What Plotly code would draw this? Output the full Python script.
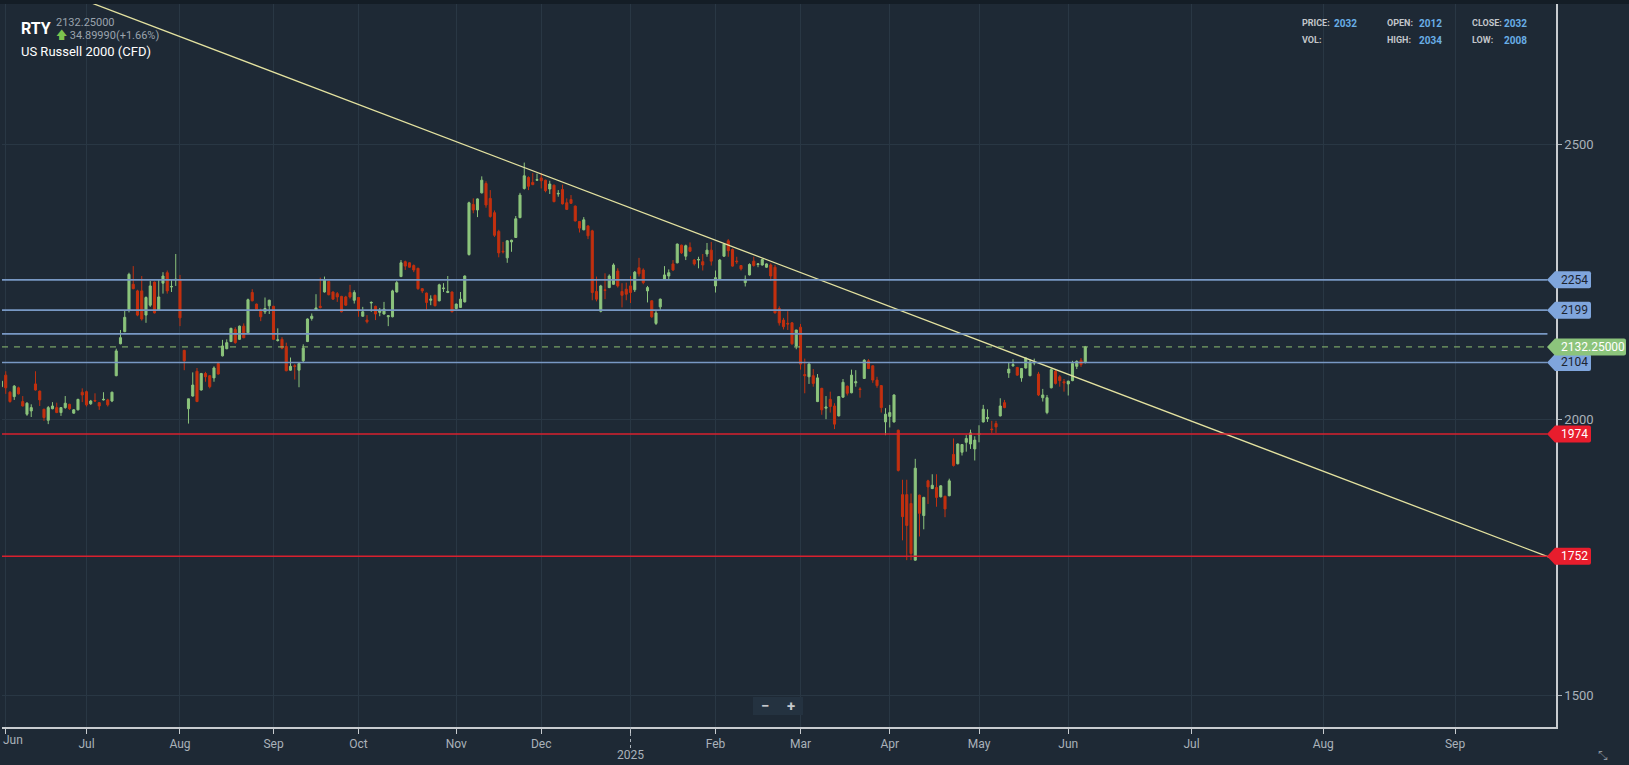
import plotly.graph_objects as go

# ---------------- data ----------------
opens = [2060, 2081, 2050, 2042, 2058, 2033, 2010, 2016, 2065, 2052,
         2019, 1999, 2020, 2022, 2013, 2022, 2028, 2012, 2018, 2050,
         2051, 2029, 2035, 2031, 2036, 2036, 2034, 2080, 2138, 2160,
         2199, 2246, 2234, 2234, 2190, 2208, 2250, 2199, 2248, 2267,
         2241, 2254, 2255, 2126, 2020, 2043, 2088, 2054, 2084, 2080,
         2076, 2102, 2116, 2129, 2142, 2164, 2146, 2170, 2158, 2231,
         2210, 2198, 2196, 2207, 2206, 2144, 2146, 2133, 2090, 2098,
         2090, 2107, 2142, 2184, 2199, 2206, 2232, 2251, 2232, 2229,
         2224, 2223, 2231, 2217, 2222, 2188, 2181, 2212, 2206, 2195,
         2192, 2187, 2187, 2232, 2260, 2287, 2285, 2280, 2275, 2238,
         2230, 2217, 2226, 2216, 2238, 2231, 2232, 2202, 2204, 2214,
         2300, 2391, 2381, 2412, 2429, 2402, 2376, 2342, 2306, 2294,
         2323, 2331, 2367, 2420, 2440, 2431, 2435, 2439, 2435, 2419,
         2426, 2410, 2418, 2394, 2400, 2388, 2360, 2345, 2352, 2343,
         2233, 2197, 2236, 2240, 2246, 2270, 2233, 2237, 2243, 2236,
         2276, 2272, 2234, 2216, 2175, 2205, 2255, 2261, 2283, 2285,
         2317, 2297, 2313, 2290, 2290, 2287, 2301, 2308, 2243, 2255,
         2297, 2325, 2309, 2288, 2280, 2249, 2263, 2288, 2282, 2281,
         2277, 2281, 2277, 2202, 2181, 2175, 2176, 2134, 2168, 2082,
         2078, 2080, 2033, 2057, 2021, 2037, 2025, 2007, 2041, 2061,
         2049, 2067, 2056, 2075, 2107, 2098, 2072, 2062, 1996, 2006,
         1996, 1981, 1864, 1864, 1848, 1745, 1863, 1826, 1889, 1875,
         1877, 1860, 1861, 1862, 1937, 1920, 1941, 1959, 1956, 1947,
         1973, 1996, 2002, 1983, 1993, 2007, 2031, 2085, 2098, 2095,
         2076, 2094, 2080, 2103, 2083, 2040, 2013, 2058, 2088, 2078,
         2069, 2065, 2071, 2097, 2108, 2104]
highs = [2072, 2088, 2052, 2063, 2060, 2043, 2032, 2028, 2088, 2053,
         2020, 2025, 2032, 2031, 2023, 2043, 2029, 2019, 2038, 2057,
         2053, 2036, 2048, 2032, 2050, 2038, 2051, 2129, 2163, 2199,
         2267, 2279, 2236, 2261, 2224, 2252, 2251, 2255, 2268, 2271,
         2255, 2301, 2263, 2127, 2038, 2086, 2094, 2085, 2087, 2081,
         2097, 2105, 2145, 2146, 2167, 2168, 2171, 2175, 2220, 2237,
         2211, 2202, 2222, 2218, 2207, 2166, 2150, 2140, 2113, 2101,
         2104, 2137, 2184, 2193, 2228, 2258, 2260, 2252, 2233, 2232,
         2225, 2225, 2245, 2235, 2223, 2205, 2190, 2215, 2207, 2203,
         2214, 2190, 2236, 2252, 2290, 2289, 2286, 2282, 2276, 2239,
         2231, 2226, 2227, 2247, 2248, 2261, 2233, 2211, 2232, 2262,
         2396, 2402, 2402, 2442, 2433, 2417, 2380, 2345, 2323, 2326,
         2327, 2370, 2412, 2467, 2442, 2448, 2447, 2448, 2436, 2434,
         2427, 2417, 2427, 2402, 2408, 2389, 2361, 2368, 2353, 2345,
         2260, 2245, 2266, 2264, 2284, 2275, 2248, 2249, 2261, 2270,
         2294, 2275, 2243, 2217, 2198, 2220, 2279, 2273, 2290, 2320,
         2318, 2318, 2322, 2292, 2296, 2301, 2321, 2323, 2271, 2292,
         2320, 2328, 2311, 2296, 2281, 2262, 2284, 2296, 2284, 2293,
         2284, 2284, 2281, 2206, 2185, 2197, 2177, 2163, 2174, 2111,
         2104, 2092, 2083, 2058, 2043, 2051, 2030, 2043, 2074, 2062,
         2091, 2090, 2059, 2110, 2110, 2099, 2078, 2063, 2021, 2027,
         2046, 1982, 1891, 1891, 1866, 1929, 1864, 1860, 1891, 1901,
         1901, 1881, 1862, 1893, 1966, 1957, 1956, 1972, 1982, 1970,
         1990, 2027, 2019, 1998, 1998, 2039, 2036, 2104, 2110, 2096,
         2094, 2113, 2110, 2111, 2087, 2056, 2045, 2093, 2091, 2081,
         2074, 2071, 2107, 2108, 2112, 2134]
lows = [2058, 2047, 2031, 2036, 2046, 2024, 2007, 2005, 2053, 2025,
        1998, 1992, 2019, 2012, 2007, 2020, 2018, 2011, 2017, 2032,
        2024, 2027, 2033, 2018, 2035, 2024, 2032, 2079, 2137, 2159,
        2195, 2237, 2188, 2180, 2176, 2205, 2193, 2198, 2229, 2229,
        2232, 2243, 2170, 2090, 1993, 2042, 2032, 2053, 2069, 2057,
        2069, 2082, 2115, 2128, 2141, 2138, 2145, 2148, 2157, 2215,
        2200, 2179, 2192, 2192, 2145, 2142, 2128, 2088, 2089, 2073,
        2059, 2103, 2141, 2180, 2198, 2202, 2231, 2226, 2218, 2214,
        2195, 2207, 2220, 2211, 2187, 2187, 2175, 2196, 2181, 2188,
        2191, 2170, 2186, 2231, 2259, 2272, 2276, 2268, 2236, 2230,
        2200, 2208, 2206, 2215, 2232, 2230, 2195, 2200, 2203, 2213,
        2298, 2375, 2368, 2411, 2385, 2367, 2332, 2295, 2302, 2285,
        2305, 2330, 2366, 2418, 2417, 2426, 2434, 2420, 2413, 2410,
        2395, 2405, 2391, 2381, 2392, 2360, 2340, 2344, 2328, 2217,
        2215, 2195, 2219, 2239, 2245, 2240, 2204, 2217, 2212, 2232,
        2260, 2246, 2213, 2185, 2172, 2199, 2254, 2254, 2270, 2284,
        2301, 2290, 2305, 2280, 2275, 2271, 2296, 2280, 2231, 2254,
        2296, 2296, 2278, 2283, 2271, 2242, 2262, 2278, 2277, 2280,
        2276, 2252, 2193, 2171, 2164, 2163, 2136, 2128, 2091, 2048,
        2065, 2060, 2032, 2009, 2001, 2013, 1983, 2006, 2040, 2044,
        2048, 2060, 2040, 2074, 2092, 2067, 2058, 2013, 1972, 1986,
        1995, 1906, 1781, 1745, 1745, 1744, 1788, 1801, 1847, 1874,
        1842, 1859, 1823, 1861, 1915, 1919, 1935, 1942, 1947, 1926,
        1959, 1995, 1996, 1976, 1976, 2006, 2021, 2076, 2096, 2080,
        2069, 2093, 2079, 2099, 2043, 2033, 2010, 2057, 2064, 2060,
        2051, 2044, 2070, 2092, 2096, 2102]
closes = [2070, 2058, 2033, 2061, 2047, 2025, 2030, 2022, 2054, 2036,
          2004, 2022, 2025, 2013, 2022, 2030, 2020, 2018, 2037, 2045,
          2027, 2034, 2034, 2025, 2037, 2027, 2050, 2125, 2149, 2186,
          2264, 2238, 2190, 2183, 2222, 2243, 2194, 2223, 2261, 2234,
          2242, 2255, 2185, 2107, 2038, 2063, 2033, 2084, 2078, 2060,
          2094, 2083, 2134, 2140, 2166, 2140, 2170, 2149, 2218, 2216,
          2201, 2187, 2202, 2217, 2146, 2145, 2130, 2089, 2097, 2097,
          2102, 2130, 2183, 2188, 2203, 2204, 2254, 2227, 2219, 2223,
          2196, 2208, 2223, 2231, 2198, 2196, 2178, 2213, 2192, 2198,
          2201, 2189, 2234, 2249, 2285, 2279, 2277, 2272, 2238, 2234,
          2213, 2219, 2207, 2245, 2239, 2233, 2196, 2210, 2219, 2261,
          2394, 2381, 2401, 2435, 2390, 2369, 2335, 2303, 2305, 2325,
          2326, 2365, 2408, 2443, 2424, 2427, 2436, 2434, 2416, 2428,
          2396, 2411, 2392, 2382, 2393, 2361, 2348, 2363, 2334, 2231,
          2219, 2243, 2235, 2261, 2281, 2243, 2226, 2228, 2231, 2268,
          2265, 2249, 2240, 2187, 2194, 2219, 2263, 2267, 2272, 2319,
          2303, 2316, 2306, 2283, 2291, 2281, 2308, 2288, 2258, 2290,
          2319, 2307, 2279, 2287, 2274, 2255, 2282, 2280, 2283, 2291,
          2283, 2261, 2194, 2176, 2169, 2174, 2138, 2163, 2101, 2080,
          2101, 2066, 2076, 2018, 2023, 2024, 1992, 2042, 2068, 2048,
          2081, 2069, 2055, 2108, 2093, 2072, 2062, 2022, 2010, 2013,
          2045, 1908, 1824, 1808, 1757, 1912, 1830, 1859, 1878, 1881,
          1859, 1880, 1838, 1889, 1917, 1956, 1955, 1966, 1976, 1963,
          1975, 2019, 2004, 1982, 1987, 2025, 2022, 2092, 2100, 2081,
          2093, 2112, 2105, 2104, 2045, 2045, 2040, 2091, 2066, 2071,
          2067, 2070, 2102, 2106, 2100, 2132.25]
bar_index = list(range(len(opens)))

month_tick_pos = [1, 20, 42, 64, 84, 107, 127, 148, 168, 188, 209, 230, 251, 280, 311, 342]
month_tick_text = ["", "Jul", "Aug", "Sep", "Oct", "Nov", "Dec", "", "Feb", "Mar",
                   "Apr", "May", "Jun", "Jul", "Aug", "Sep"]
first_month_label = "Jun"
year_label = "2025"
year_tick_pos = 148

price_ticks = [1500, 2000, 2500]

trend_x = [0, 366]
trend_y = [2819, 1745]

blue_levels = [2254, 2199, 2156, 2104]
blue_labels = ["2254", "2199", "", "2104"]
red_levels = [1974, 1752]
red_labels = ["1974", "1752"]
last_price = 2132.25
last_label = "2132.25000"

# ---------------- styles ----------------
BG = "#1e2935"
GRID = "#293744"
GREEN = "#8cc47c"
RED = "#c3300f"
BLUE_LINE = "#7898c4"
BLUE_TAG = "#7fa5dc"
RED_LINE = "#d9202e"
RED_TAG = "#e81d2d"
LABEL_GREY = "#aab2ba"
FONT = "Roboto"
PLOT_W = 1554  # plot area width in px (l=2, r=73)

fig = go.Figure()

fig.add_trace(go.Candlestick(
    x=bar_index, open=opens, high=highs, low=lows, close=closes,
    increasing=dict(line=dict(color=GREEN, width=1), fillcolor=GREEN),
    decreasing=dict(line=dict(color=RED, width=1), fillcolor=RED),
    whiskerwidth=0, hoverinfo="skip", showlegend=False,
))

fig.add_trace(go.Scatter(
    x=trend_x, y=trend_y, mode="lines",
    line=dict(color="#e4e2a0", width=1.3), hoverinfo="skip", showlegend=False,
))

shapes = []
annotations = []

# horizontal level lines
for v in blue_levels:
    shapes.append(dict(type="line", xref="paper", yref="y", x0=0, x1=0.9945, y0=v, y1=v,
                       line=dict(color=BLUE_LINE, width=1.6), layer="above"))
for v in red_levels:
    shapes.append(dict(type="line", xref="paper", yref="y", x0=0, x1=0.9945, y0=v, y1=v,
                       line=dict(color=RED_LINE, width=1.4), layer="above"))
shapes.append(dict(type="line", xref="paper", yref="y", x0=0, x1=0.9945, y0=last_price, y1=last_price,
                   line=dict(color="#8fbf72", width=1, dash="6px,6px"), layer="above"))


def tag(value, color, width_px):
    path = (f"M -9,0 L -1,8.5 L {width_px-2},8.5 Q {width_px},8.5 {width_px},6.5 "
            f"L {width_px},-6.5 Q {width_px},-8.5 {width_px-2},-8.5 L -1,-8.5 Z")
    return dict(type="path", xref="paper", yref="y", xsizemode="pixel", ysizemode="pixel",
                xanchor=1, yanchor=value, path=path, fillcolor=color,
                line=dict(width=0), layer="above")


for v, t in zip(blue_levels, blue_labels):
    if t:
        shapes.append(tag(v, BLUE_TAG, 35))
        annotations.append(dict(xref="paper", yref="y", x=1, y=v, xanchor="left", xshift=3,
                                yanchor="middle", text=t, showarrow=False,
                                font=dict(family=FONT, size=12, color="#1b2430")))
for v, t in zip(red_levels, red_labels):
    shapes.append(tag(v, RED_TAG, 35))
    annotations.append(dict(xref="paper", yref="y", x=1, y=v, xanchor="left", xshift=3,
                            yanchor="middle", text=t, showarrow=False,
                            font=dict(family=FONT, size=12, color="#ffffff")))
shapes.append(tag(last_price, "#8cc47c", 70))
annotations.append(dict(xref="paper", yref="y", x=1, y=last_price, xanchor="left", xshift=3,
                        yanchor="middle", text=last_label, showarrow=False,
                        font=dict(family=FONT, size=12, color="#ffffff")))

# top dark strip
shapes.append(dict(type="rect", xref="paper", yref="paper", x0=-0.01, x1=1.05, y0=1, y1=1.01,
                   fillcolor="#141d26", line=dict(width=0), layer="above"))

# first month label, kept fully inside the page at the left edge
annotations.append(dict(xref="paper", yref="paper", x=0, y=0, xshift=-1, yshift=-13,
                        xanchor="left", yanchor="middle", text=first_month_label, showarrow=False,
                        font=dict(family=FONT, size=12, color=LABEL_GREY)))

# year marker under January
shapes.append(dict(type="line", xref="x", yref="paper", x0=year_tick_pos, x1=year_tick_pos,
                   y0=0, y1=-0.03, line=dict(color=LABEL_GREY, width=1, dash="dot")))
annotations.append(dict(xref="x", yref="paper", x=year_tick_pos, y=0, yshift=-28, yanchor="middle",
                        text=year_label, showarrow=False,
                        font=dict(family=FONT, size=12, color=LABEL_GREY)))

# zoom buttons box (px 753..803, 697..715)
shapes.append(dict(type="rect", xref="paper", yref="paper",
                   x0=(753 - 2) / PLOT_W, x1=(803 - 2) / PLOT_W,
                   y0=(727 - 715) / 723, y1=(727 - 697) / 723,
                   fillcolor="#243240", line=dict(width=0), layer="above"))
for sym, px in (("−", 765), ("+", 791)):
    annotations.append(dict(xref="paper", yref="paper", x=(px - 2) / PLOT_W, y=(727 - 706) / 723,
                            xanchor="center", yanchor="middle",
                            text=f"<b>{sym}</b>", showarrow=False,
                            font=dict(family=FONT, size=15, color="#c5c9cd")))

# header texts
annotations += [
    dict(xref="paper", yref="paper", x=0, y=1, xshift=17, yshift=-24, xanchor="left", yanchor="middle",
         text="<b>RTY</b>", showarrow=False, font=dict(family=FONT, size=16, color="#ffffff")),
    dict(xref="paper", yref="paper", x=0, y=1, xshift=52, yshift=-18, xanchor="left", yanchor="middle",
         text="2132.25000", showarrow=False, font=dict(family=FONT, size=11, color="#9aa3ad")),
    dict(xref="paper", yref="paper", x=0, y=1, xshift=52, yshift=-31, xanchor="left", yanchor="middle",
         text="<span style='color:#7cc44e'>🡅</span> 34.89990(+1.66%)", showarrow=False,
         font=dict(family=FONT, size=11, color="#9aa3ad")),
    dict(xref="paper", yref="paper", x=0, y=1, xshift=17, yshift=-47, xanchor="left", yanchor="middle",
         text="US Russell 2000 (CFD)", showarrow=False, font=dict(family=FONT, size=13, color="#ffffff")),
]

info = [("PRICE:", "2032", 1300, 1332, 23), ("OPEN:", "2012", 1385, 1417, 23),
        ("CLOSE:", "2032", 1470, 1502, 23), ("VOL:", "", 1300, 1332, 40),
        ("HIGH:", "2034", 1385, 1417, 40), ("LOW:", "2008", 1470, 1502, 40)]
for lab, val, xl, xv, yy in info:
    annotations.append(dict(xref="paper", yref="paper", x=(xl - 2) / PLOT_W, y=1, yshift=-(yy - 4),
                            xanchor="left", yanchor="middle", text=f"<b>{lab}</b>", showarrow=False,
                            font=dict(family=FONT, size=9, color="#c2c6ca")))
    if val:
        annotations.append(dict(xref="paper", yref="paper", x=(xv - 2) / PLOT_W, y=1, yshift=-(yy - 4),
                                xanchor="left", yanchor="middle", text=f"<b>{val}</b>", showarrow=False,
                                font=dict(family=FONT, size=10, color="#69aee6")))

# corner icon
annotations.append(dict(xref="paper", yref="paper", x=1, y=0, xshift=47, yshift=-29,
                        xanchor="center", yanchor="middle",
                        text="⤡", showarrow=False, font=dict(family="DejaVu Sans", size=12, color="#8a939c")))

fig.update_layout(
    width=1629, height=765,
    margin=dict(l=2, r=73, t=4, b=38),
    paper_bgcolor=BG, plot_bgcolor=BG,
    shapes=shapes, annotations=annotations,
    showlegend=False,
    xaxis=dict(range=[0.12, 365.76], tickmode="array", tickvals=month_tick_pos, ticktext=month_tick_text,
               showgrid=True, gridcolor=GRID, gridwidth=1, zeroline=False,
               showline=True, linecolor="#c8ccd0", linewidth=1.5, mirror=False,
               ticks="outside", ticklen=5, tickcolor="#c8ccd0",
               tickfont=dict(family=FONT, size=12, color=LABEL_GREY),
               rangeslider=dict(visible=False), fixedrange=True),
    yaxis=dict(range=[1442, 2755], side="right", tickmode="array", tickvals=price_ticks,
               showgrid=True, gridcolor=GRID, gridwidth=1, zeroline=False,
               showline=True, linecolor="#c8ccd0", linewidth=1.5,
               ticks="outside", ticklen=4, tickcolor=LABEL_GREY,
               tickfont=dict(family=FONT, size=13, color=LABEL_GREY)),
)

fig.write_html("out.html")
